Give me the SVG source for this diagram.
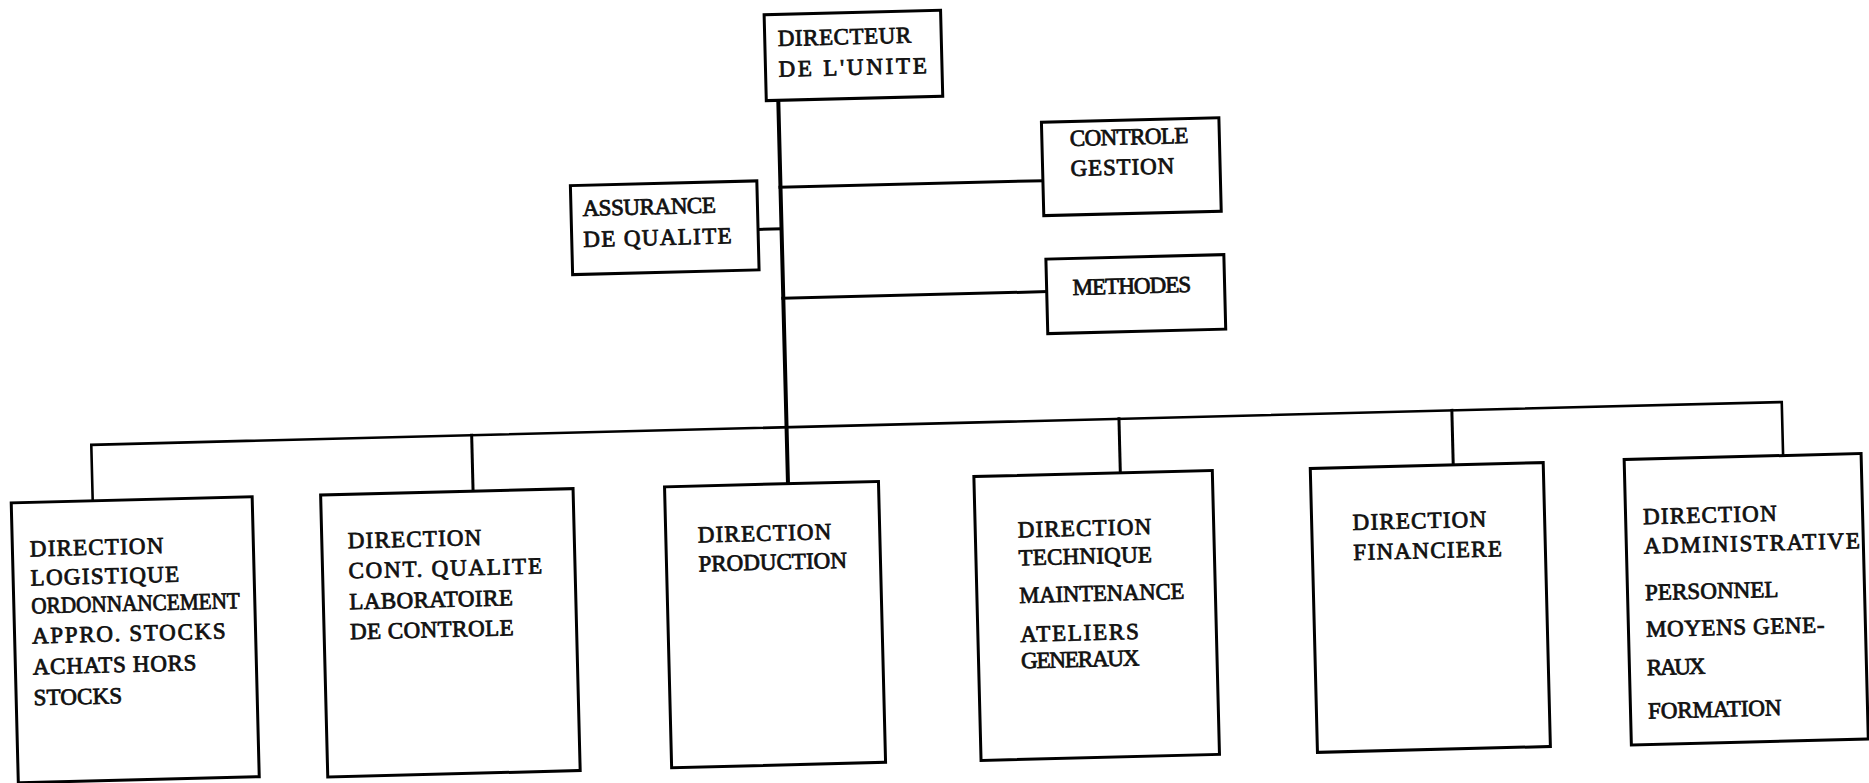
<svg xmlns="http://www.w3.org/2000/svg" width="1869" height="783" viewBox="0 0 1869 783">
  <style>
    .box { fill: #fff; stroke: #000; stroke-width: 3; stroke-linejoin: miter; }
    .lbl { font-family: "Liberation Serif", "Times New Roman", serif; font-size: 23px; fill: #111; stroke: #111; stroke-width: 0.8px; }
    .wire { stroke: #000; stroke-width: 3; fill: none; stroke-linecap: square; }
    .trunk { stroke-width: 4; }
    .bus { stroke-width: 2.6; }
  </style>
  <rect x="0" y="0" width="1869" height="783" fill="#fff"/>
  <!-- the typed sheet sits a little askew -->
  <g transform="rotate(-1.45)">
    <g id="connectors">
      <!-- main vertical line from the unit director down to production -->
      <line class="wire trunk" x1="775.5" y1="120" x2="775.5" y2="503"/>
      <!-- staff functions -->
      <line class="wire" x1="752" y1="248.5" x2="775" y2="248.5"/>
      <line class="wire" x1="775" y1="207" x2="1038" y2="207"/>
      <line class="wire" x1="775" y1="318" x2="1039" y2="318"/>
      <!-- horizontal bus to the six directions -->
      <path class="wire bus" d="M80 503 V447 H1771 V500.5"/>
      <line class="wire" x1="460.5" y1="447" x2="460.5" y2="503"/>
      <line class="wire" x1="1108" y1="447" x2="1108" y2="501"/>
      <line class="wire" x1="1441" y1="447" x2="1441" y2="501.5"/>
    </g>

    <!-- typewriter pitch: about 15 px per character, fixed by textLength -->
    <g id="directeur">
      <rect class="box" x="763.5" y="34" width="176.5" height="86"/>
      <text class="lbl" x="776.5" y="65.7" textLength="133.5">DIRECTEUR</text>
      <text class="lbl" x="776.5" y="96.5" textLength="148.5">DE L'UNITE</text>
    </g>

    <g id="assurance-qualite">
      <rect class="box" x="565.5" y="200" width="186.5" height="89"/>
      <text class="lbl" x="577" y="230.7" textLength="133.5">ASSURANCE</text>
      <text class="lbl" x="577" y="261.7" textLength="148.5">DE QUALITE</text>
    </g>

    <g id="controle-gestion">
      <rect class="box" x="1038" y="148.5" width="177.5" height="93.5"/>
      <text class="lbl" x="1066" y="173" textLength="118.5">CONTROLE</text>
      <text class="lbl" x="1066" y="203" textLength="103.5">GESTION</text>
    </g>

    <g id="methodes">
      <rect class="box" x="1039" y="285.5" width="178" height="74.5"/>
      <text class="lbl" x="1065" y="322" textLength="118.5">METHODES</text>
    </g>

    <g id="direction-logistique">
      <rect class="box" x="-1.5" y="503" width="241" height="280"/>
      <text class="lbl" x="16" y="557" textLength="133.5">DIRECTION</text>
      <text class="lbl" x="16" y="586" textLength="148.5">LOGISTIQUE</text>
      <text class="lbl" x="16" y="614" textLength="208.5" lengthAdjust="spacingAndGlyphs">ORDONNANCEMENT</text>
      <text class="lbl" x="16" y="644" textLength="193.5">APPRO. STOCKS</text>
      <text class="lbl" x="16" y="675" textLength="163.5">ACHATS HORS</text>
      <text class="lbl" x="16" y="706" textLength="88.5">STOCKS</text>
    </g>

    <g id="direction-qualite">
      <rect class="box" x="308" y="503" width="252.5" height="282"/>
      <text class="lbl" x="334" y="557" textLength="133.5">DIRECTION</text>
      <text class="lbl" x="334" y="587" textLength="193.5">CONT. QUALITE</text>
      <text class="lbl" x="334" y="618" textLength="163.5">LABORATOIRE</text>
      <text class="lbl" x="334" y="648" textLength="163.5">DE CONTROLE</text>
    </g>

    <g id="direction-production">
      <rect class="box" x="652" y="503.5" width="214" height="281"/>
      <text class="lbl" x="684" y="560" textLength="133.5">DIRECTION</text>
      <text class="lbl" x="684" y="589" textLength="148.5">PRODUCTION</text>
    </g>

    <g id="direction-technique">
      <rect class="box" x="961.5" y="501" width="238.5" height="284"/>
      <text class="lbl" x="1004" y="563" textLength="133.5">DIRECTION</text>
      <text class="lbl" x="1004" y="591" textLength="133.5">TECHNIQUE</text>
      <text class="lbl" x="1004" y="628.5" textLength="165" lengthAdjust="spacingAndGlyphs">MAINTENANCE</text>
      <text class="lbl" x="1004" y="667.5" textLength="118.5">ATELIERS</text>
      <text class="lbl" x="1004" y="694" textLength="118.5">GENERAUX</text>
    </g>

    <g id="direction-financiere">
      <rect class="box" x="1298" y="501.5" width="233" height="284"/>
      <text class="lbl" x="1339" y="564" textLength="133.5">DIRECTION</text>
      <text class="lbl" x="1339" y="594" textLength="148.5">FINANCIERE</text>
    </g>

    <g id="direction-administrative">
      <rect class="box" x="1612" y="500.5" width="237" height="285.5"/>
      <text class="lbl" x="1629.5" y="565.6" textLength="133.5">DIRECTION</text>
      <text class="lbl" x="1629.5" y="595" textLength="216">ADMINISTRATIVE</text>
      <text class="lbl" x="1629.5" y="641.6" textLength="133.5">PERSONNEL</text>
      <text class="lbl" x="1629.5" y="678.3" textLength="178.5">MOYENS GENE-</text>
      <text class="lbl" x="1629.5" y="716.6" textLength="58.5">RAUX</text>
      <text class="lbl" x="1629.5" y="760" textLength="133.5">FORMATION</text>
    </g>
  </g>
</svg>
